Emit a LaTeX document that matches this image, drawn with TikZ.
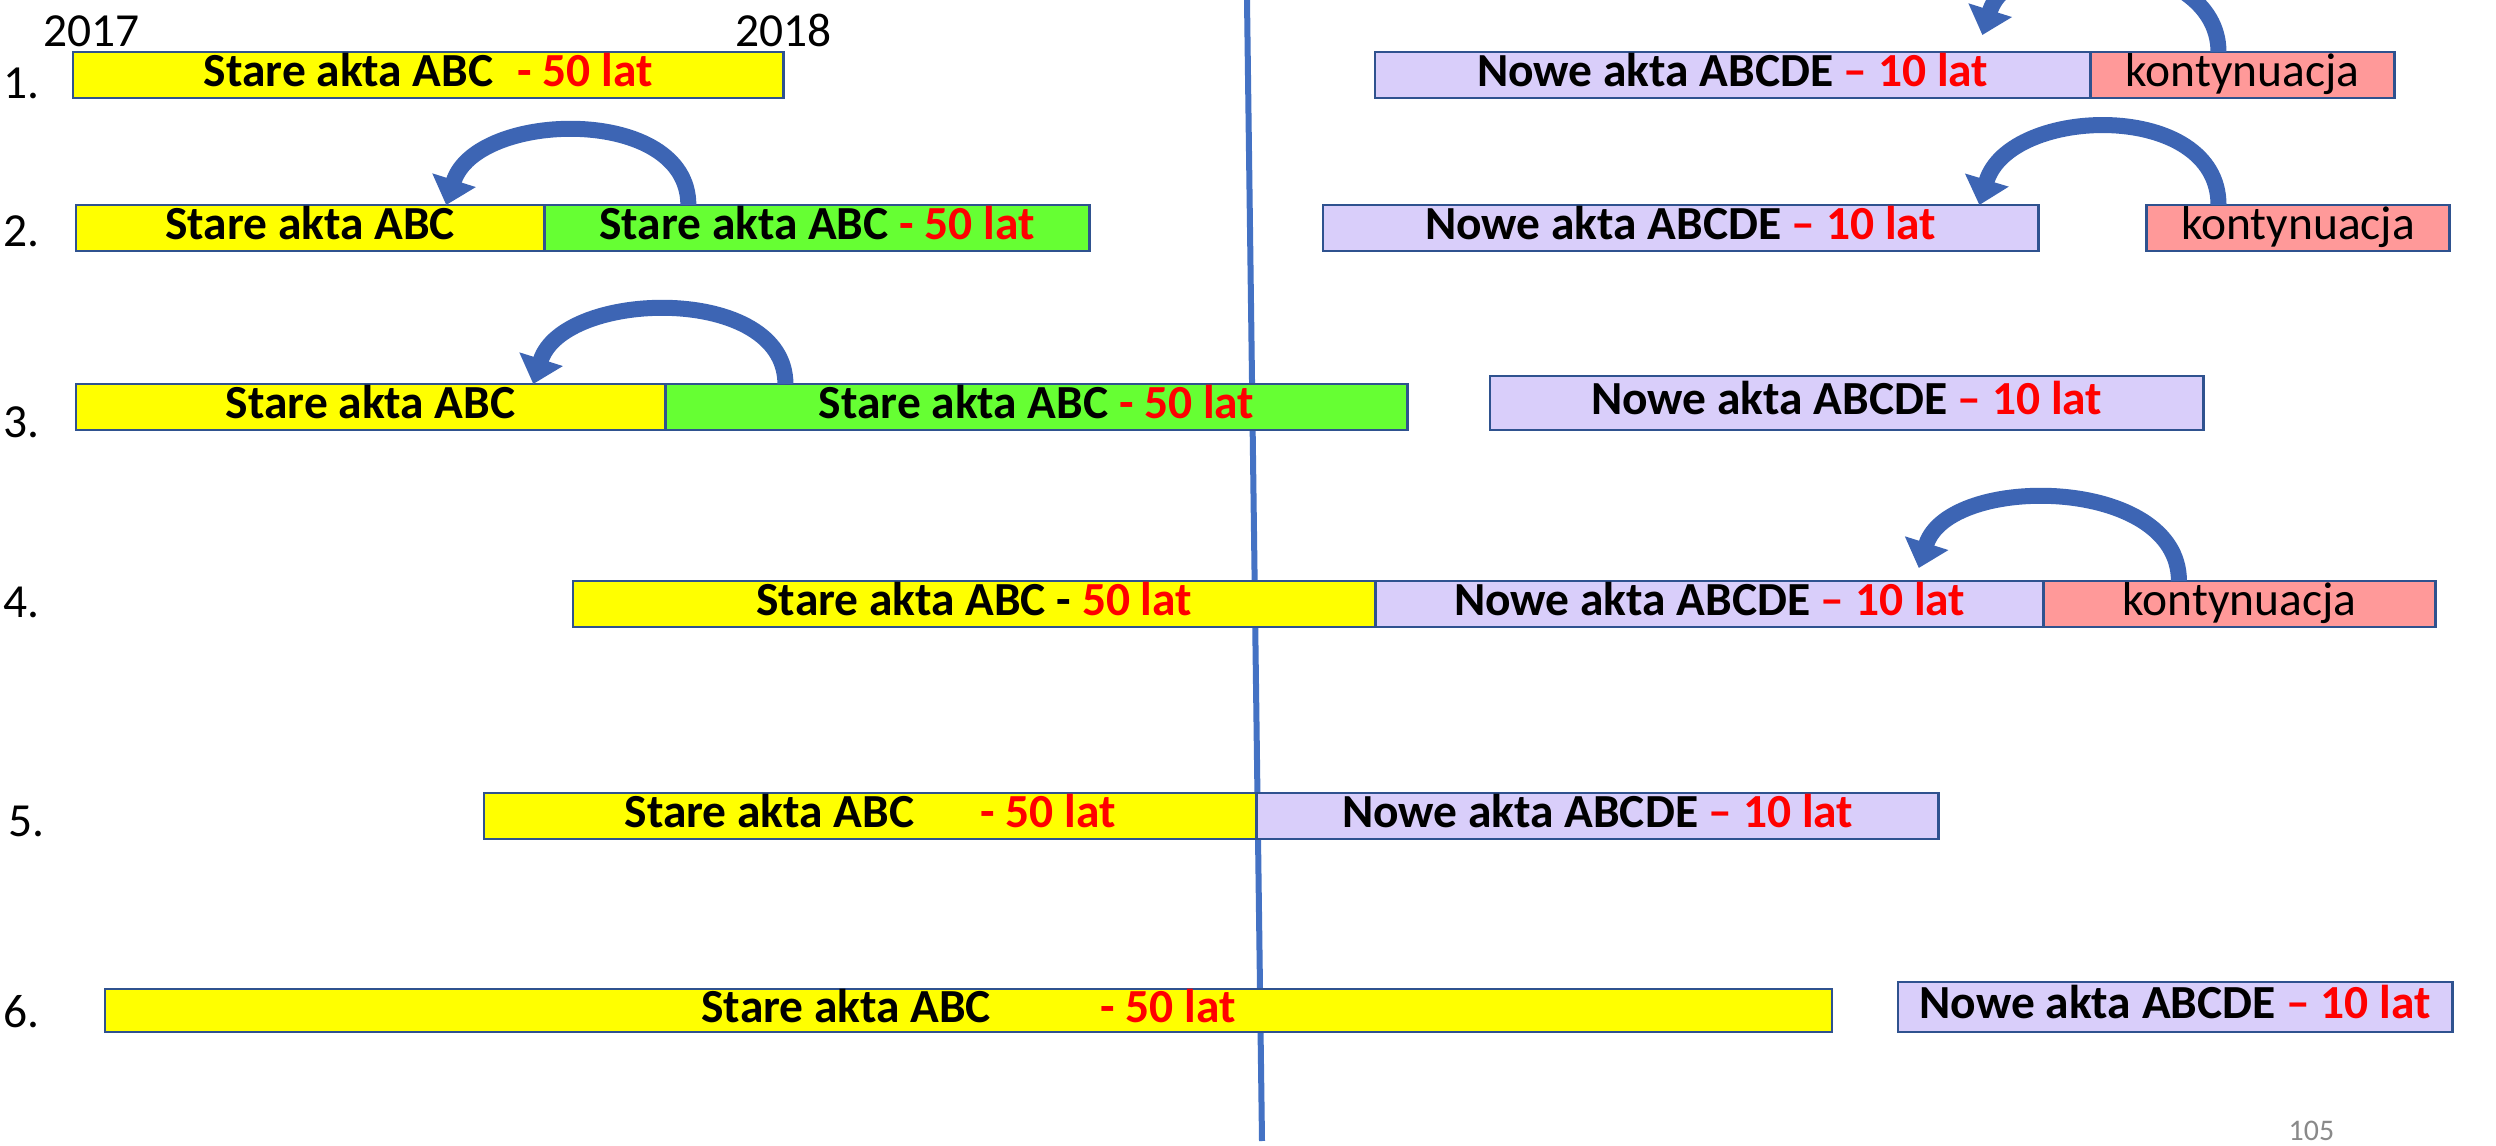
\documentclass[tikz,border=0pt]{standalone}
\usepackage{fontspec}
\setmainfont{Carlito}
\usetikzlibrary{arrows.meta,positioning}
\definecolor{aktaborder}{RGB}{47,82,143}
\definecolor{oldyellow}{RGB}{255,255,0}
\definecolor{oldgreen}{RGB}{102,255,51}
\definecolor{newlilac}{RGB}{217,206,250}
\definecolor{contpink}{RGB}{255,153,153}
\definecolor{arcblue}{RGB}{61,101,180}
\definecolor{lineblue}{RGB}{68,114,196}
\definecolor{pagegray}{RGB}{137,137,137}
\newcommand{\czas}[1]{\textcolor{red}{#1}}
\tikzset{
  aktabox/.style={draw=aktaborder, line width=0.8pt, inner sep=0pt, outer sep=0pt, minimum height=0.46cm, text height=0.32cm, text depth=0.09cm, font=\fontsize{13.5}{16}\selectfont\bfseries},
  oldbox/.style={aktabox, fill=oldyellow},
  copybox/.style={aktabox, fill=oldgreen},
  newbox/.style={aktabox, fill=newlilac},
  contbox/.style={aktabox, fill=contpink, font=\fontsize{13.5}{16}\selectfont},
  backarrow/.style={arcblue, line width=0.16cm, -{Triangle[width=0.44cm,length=0.26cm]}},
  rowlabel/.style={anchor=base west, inner sep=0pt, font=\fontsize{13.5}{16}\selectfont}
}
\begin{document}
\begin{tikzpicture}[x=0.01cm, y=-0.01cm]
  \useasboundingbox (0,0) rectangle (2496,1146);
  \clip (0,0) rectangle (2496,1146);
  \fill[white] (0,0) rectangle (2496,1146);

  \draw[lineblue, line width=0.06cm] (1247,0) -- (1262,1141);

  \node[rowlabel] (y17) at (43,47) {2017};
  \node[rowlabel] (y18) at (735,47) {2018};

  \node[rowlabel] (r1) at (3,99) {1.};
  \node[oldbox, anchor=north west, minimum width=7.10cm] (o1) at (73,52) {Stare akta ABC\hspace{0.5em}\czas{- 50 lat}};
  \node[newbox, anchor=north west, minimum width=7.15cm] (n1) at (1375,52) {Nowe akta ABCDE \czas{– 10 lat}};
  \node[contbox, minimum width=3.04cm, right=0pt of n1] (p1) {kontynuacja};

  \node[rowlabel] (r2) at (3,247) {2.};
  \node[oldbox, anchor=north west, minimum width=4.68cm] (o2) at (76,205) {Stare akta ABC};
  \node[copybox, minimum width=5.45cm, right=0pt of o2] (g2) {Stare akta ABC \czas{- 50 lat}};
  \node[newbox, anchor=north west, minimum width=7.15cm] (n2) at (1323,205) {Nowe akta ABCDE \czas{– 10 lat}};
  \node[contbox, minimum width=3.03cm, right=1.08cm of n2] (p2) {kontynuacja};

  \node[rowlabel] (r3) at (3,438) {3.};
  \node[oldbox, anchor=north west, minimum width=5.89cm] (o3) at (76,384) {Stare akta ABC};
  \node[copybox, minimum width=7.42cm, right=0pt of o3] (g3) {Stare akta ABC \czas{- 50 lat}};
  \node[newbox, anchor=north west, minimum width=7.13cm, minimum height=0.54cm] (n3) at (1490,376) {Nowe akta ABCDE \czas{– 10 lat}};

  \node[rowlabel] (r4) at (3,618) {4.};
  \node[oldbox, anchor=north west, minimum width=8.02cm] (o4) at (573,581) {Stare akta ABC - \czas{50 lat}};
  \node[newbox, minimum width=6.68cm, right=0pt of o4] (n4) {Nowe akta ABCDE \czas{– 10 lat}};
  \node[contbox, minimum width=3.91cm, right=0pt of n4] (p4) {kontynuacja};

  \node[rowlabel] (r5) at (8,836) {5.};
  \node[oldbox, anchor=north west, minimum width=7.72cm] (o5) at (484,793) {Stare akta ABC\hspace{1.4em}\czas{- 50 lat}};
  \node[newbox, minimum width=6.82cm, right=0pt of o5] (n5) {Nowe akta ABCDE \czas{– 10 lat}};

  \node[rowlabel] (r6) at (3,1027) {6.};
  \node[oldbox, anchor=north west, minimum width=17.26cm, minimum height=0.43cm] (o6) at (105,989) {Stare akta ABC\hspace{2.3em}\czas{- 50 lat}};
  \node[newbox, anchor=north west, minimum width=5.54cm, minimum height=0.50cm] (n6) at (1898,982) {Nowe akta ABCDE \czas{– 10 lat}};

  \draw[backarrow] ([xshift=1.28cm]p1.north west) .. controls +(0,-100) and +(30,-95) .. ([xshift=6.07cm,yshift=0.17cm]n1.north west);
  \draw[backarrow] ([xshift=1.44cm]g2.north west) .. controls +(0,-100) and +(30,-95) .. ([xshift=3.70cm]o2.north west);
  \draw[backarrow] ([xshift=0.72cm]p2.north west) .. controls +(0,-105) and +(30,-100) .. ([xshift=6.56cm]n2.north west);
  \draw[backarrow] ([xshift=1.20cm]g3.north west) .. controls +(0,-100) and +(30,-95) .. ([xshift=4.57cm]o3.north west);
  \draw[backarrow] ([xshift=1.35cm]p4.north west) .. controls +(0,-105) and +(30,-95) .. ([xshift=5.43cm,yshift=0.13cm]n4.north west);

  \node[anchor=base west, inner sep=0pt, text=pagegray, font=\fontsize{8.5}{10}\selectfont] (page) at (2288,1140) {105};
\end{tikzpicture}
\end{document}
